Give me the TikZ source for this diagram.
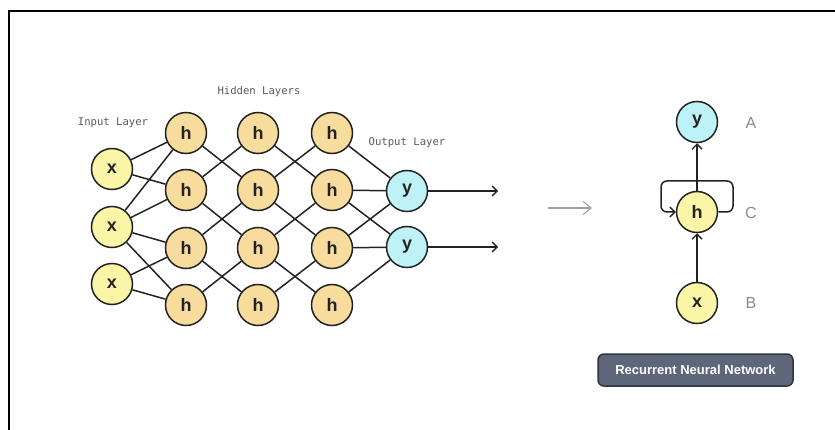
\documentclass[tikz,border=0pt]{standalone}
\usepackage{fontspec}
\setmainfont{Liberation Sans}
\newfontfamily\labelmono{DejaVu Sans Mono}
\usetikzlibrary{arrows.meta}

\definecolor{inkline}{HTML}{222222}
\definecolor{xfill}{HTML}{FBF5A8}
\definecolor{hfill}{HTML}{F8DC9E}
\definecolor{yfill}{HTML}{BDF2F7}
\definecolor{labelgrey}{HTML}{5A5A5A}
\definecolor{lettergrey}{HTML}{8A8A8A}
\definecolor{btnfill}{HTML}{5E677A}
\definecolor{btnedge}{HTML}{2C3444}

\tikzset{
  neuron/.style={circle, draw=inkline, line width=1.5pt, minimum size=41pt,
    inner sep=0pt, font=\bfseries\fontsize{18}{18}\selectfont, text=inkline},
  xn/.style={neuron, fill=xfill},
  hn/.style={neuron, fill=hfill},
  yn/.style={neuron, fill=yfill},
  wire/.style={draw=inkline, line width=1.5pt},
  arr/.style={wire, -{Straight Barb[length=5pt,width=10pt,line width=1.4pt]}},
  layertext/.style={font=\labelmono\fontsize{10.6}{12}\selectfont, text=labelgrey},
  tagtext/.style={font=\fontsize{16}{16}\selectfont, text=lettergrey},
}

\begin{document}
\begin{tikzpicture}[x=1pt,y=-1pt]
\useasboundingbox (0,0) rectangle (835,430);

% frame along the top and left edges
\draw[line width=2pt] (835,11) -- (9,11) -- (9,430);

% layer captions
\node[layertext] (capin)  at (113,123) {Input Layer};
\node[layertext] (caphid) at (259,92)  {Hidden Layers};
\node[layertext] (capout) at (407,143) {Output Layer};

% input layer
\node[xn] (x1) at (112,169) {x};
\node[xn] (x2) at (112,227) {x};
\node[xn] (x3) at (112,284) {x};

% hidden layers: three columns of four
\foreach \c/\cx in {1/186,2/258,3/332}{
  \foreach \r/\ry in {1/133,2/190,3/248,4/305}{
    \node[hn] (h\c\r) at (\cx,\ry) {h};
  }
}

% output layer
\node[yn] (y1) at (407,191) {y};
\node[yn] (y2) at (407,247) {y};
\coordinate (o1) at (498,191);
\coordinate (o2) at (498,247);

% input -> first hidden column
\draw[wire] (x1) -- (h11);
\draw[wire] (x1) -- (h12);
\draw[wire] (x2) -- (h11);
\draw[wire] (x2) -- (h12);
\draw[wire] (x2) -- (h13);
\draw[wire] (x2) -- (h14);
\draw[wire] (x3) -- (h13);
\draw[wire] (x3) -- (h14);

% hidden -> hidden, crossing links between neighbouring rows
\foreach \c/\n in {1/2,2/3}{
  \draw[wire] (h\c1) -- (h\n2);
  \draw[wire] (h\c2) -- (h\n1);
  \draw[wire] (h\c2) -- (h\n3);
  \draw[wire] (h\c3) -- (h\n2);
  \draw[wire] (h\c3) -- (h\n4);
  \draw[wire] (h\c4) -- (h\n3);
}

% last hidden column -> outputs
\draw[wire] (h31) -- (y1);
\draw[wire] (h32) -- (y1);
\draw[wire] (h32) -- (y2);
\draw[wire] (h33) -- (y1);
\draw[wire] (h33) -- (y2);
\draw[wire] (h34) -- (y2);
\draw[arr] (y1) -- (o1);
\draw[arr] (y2) -- (o2);

% light arrow between the two views
\coordinate (ma) at (548,208);
\coordinate (mb) at (592,208);
\draw[draw=lettergrey!80, line width=1.1pt,
  -{Straight Barb[length=8pt,width=13pt,line width=1.1pt]}] (ma) -- (mb);

% recurrent cell
\node[yn] (ry) at (697,122) {y};
\node[hn, fill=xfill] (rh) at (697,212) {h};
\node[xn] (rx) at (697,303) {x};
\draw[arr] (rx) -- (rh);
\draw[arr] (rh) -- (ry);
\coordinate (lr) at (733,212);
\coordinate (lrt) at (733,181);
\coordinate (llt) at (661,181);
\coordinate (ll) at (661,212);
\draw[arr, rounded corners=6pt] (rh.east) -- (lr) -- (lrt) -- (llt) -- (ll) -- (rh.west);

\node[tagtext] (ta) at (751,123) {A};
\node[tagtext] (tc) at (751,213) {C};
\node[tagtext] (tb) at (751,303) {B};

% caption button
\node[draw=btnedge, fill=btnfill, line width=1.5pt, rounded corners=6pt,
  minimum width=195pt, minimum height=32pt, inner sep=0pt, text=white,
  font=\bfseries\fontsize{13}{13}\selectfont] (btn) at (695.5,370)
  {Recurrent Neural Network};
\end{tikzpicture}
\end{document}
